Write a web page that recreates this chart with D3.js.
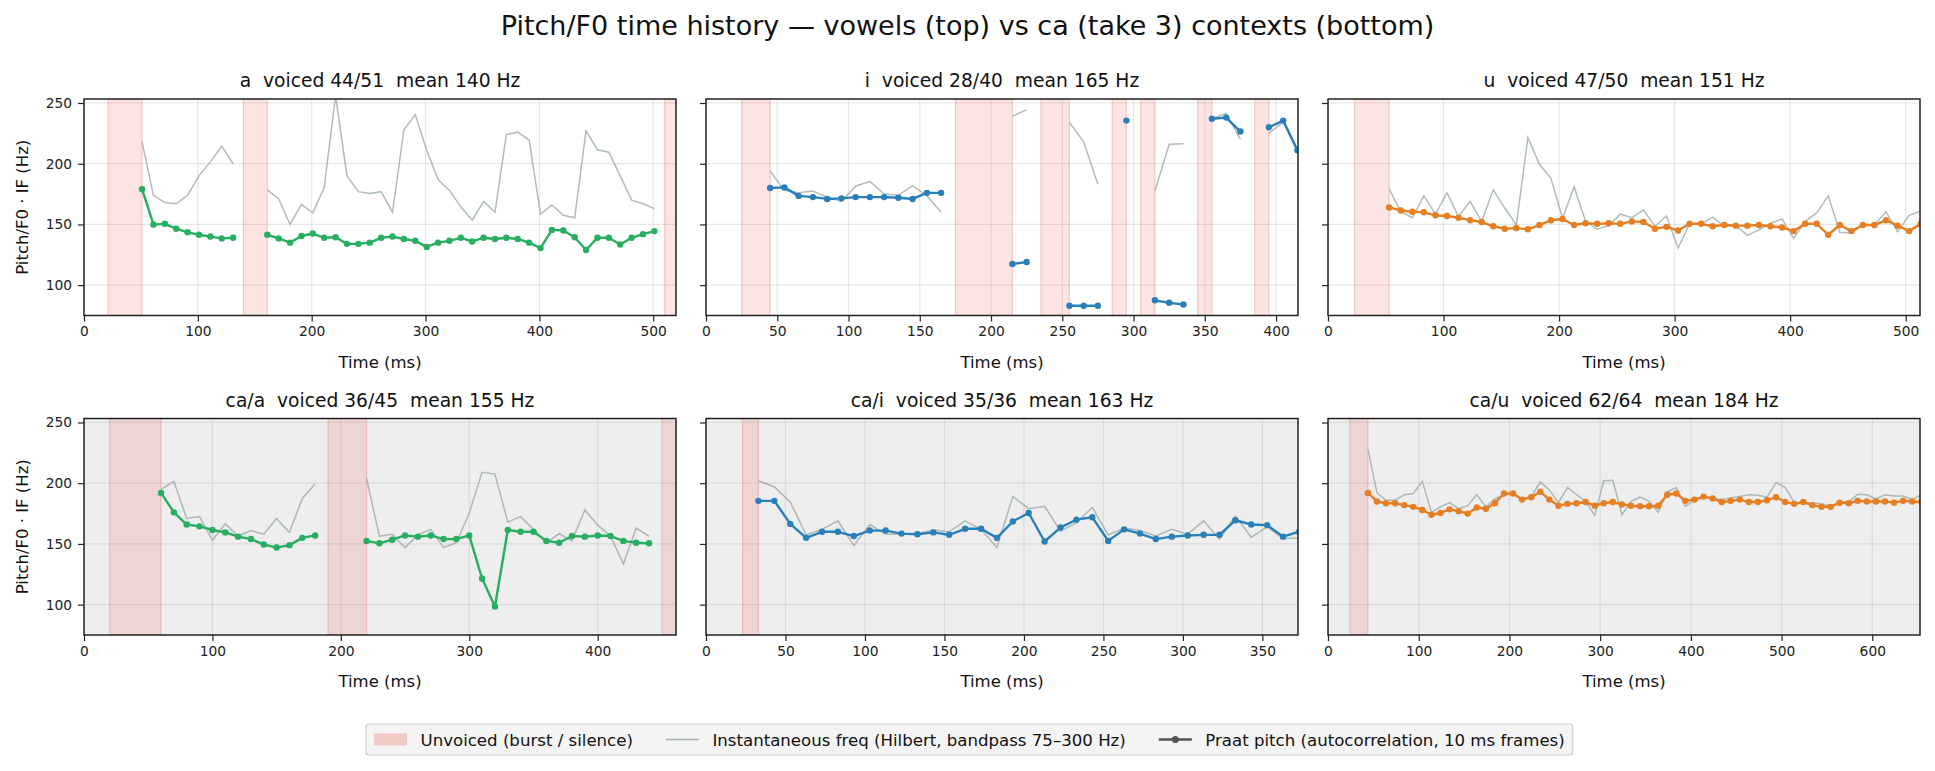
<!DOCTYPE html>
<html>
<head>
<meta charset="utf-8">
<script src="https://cdn.jsdelivr.net/npm/d3@7"></script>
<style>
  body { margin: 0; background: #fff; }
  svg { display: block; font-family: "DejaVu Sans", sans-serif; }
</style>
</head>
<body>
<svg id="chart" width="1935" height="771"></svg>
<script>
// ---- data ----
const frameMs = 10;

// vowel /a/
const aStart = 51;
const aF0 = [179, 150, 150.5, 146.5, 143.5, 141.5, 140, 138.5, 139, null, null,
  141.5, 138.5, 135, 140.5, 142.5, 139, 139.5, 134, 134, 135, 139, 140, 138, 136.5, 131.5,
  135, 136.5, 139, 136, 139, 138, 139, 138, 135, 130.5, 145.5, 145, 139.5, 129, 139, 139,
  133.5, 139, 142, 144.5];
const aIF = [218, 174, 168, 167, 174, 190, 201.5, 214.5, 200, null, null,
  178.5, 171, 150, 166.5, 159.5, 180.5, 256, 190, 177, 175.5, 177, 160, 228, 240.5, 211,
  187, 178, 164.5, 153.5, 169, 160, 224, 226, 219.5, 158.5, 166, 157.5, 155.5, 227, 211.5,
  209.5, 190, 170, 167, 163];
const aUnvoiced = [[21, 51], [140, 161], [510, 521]];

// vowel /i/
const iStart = 45;
const iF0 = [180, 180.5, 173.5, 172.5, 171, 171.5, 172.5, 172.5, 172.5, 172, 171, 176, 176,
  null, null, null, null, 117.5, 119, null, null, 83, 83, 83, null, 235.5, null,
  87.5, 85.5, 84, null, 237, 238, 226.5, null, 230, 235.5, 211];
const iIF = [194, 178, 176, 177.5, 172.5, 169, 181.5, 185.5, 175, 174, 182, 173.5, 160,
  null, null, null, null, 239, 244.5, null, null, 234, 218, 183, null, null, null,
  177.5, 216, 216.5, null, 237, 241.5, 220, null, 225, 234.5, 212];
const iUnvoiced = [[25, 45], [175, 215], [235, 255], [285, 295], [305, 315], [345, 355], [385, 395]];

// vowel /u/
const uStart = 53;
const uF0 = [164, 161.5, 160.5, 160, 157.5, 157, 155.5, 153.5, 152, 148.5, 146.5, 147, 146,
  149.5, 153.5, 154.5, 149.5, 151, 150.5, 151, 150.5, 152.5, 152, 146.5, 148, 145, 150.5,
  150.5, 148.5, 149.5, 149, 149, 149.5, 148.5, 147.5, 144.5, 150.5, 150.5, 141.5, 149.5,
  144.5, 149.5, 149.5, 153.5, 149, 144.5, 150.5];
const uIF = [179, 160.5, 155.5, 173.5, 158.5, 176, 156.5, 169, 152.5, 178.5, 163.5, 149.5,
  221.5, 199.5, 188, 155, 181, 152.5, 146, 149, 158.5, 155.5, 162, 148.5, 157, 130.5, 150.5,
  150.5, 156, 148.5, 149, 141, 145.5, 151, 154.5, 138.5, 152.5, 159.5, 173.5, 143.5, 143,
  149.5, 150, 160.5, 144, 157.5, 161];
const uUnvoiced = [[23, 53]];

// ca/a
const caAStart = 60;
const caAF0 = [192, 176, 166, 164.5, 161.5, 159.5, 156, 154, 149.5, 147, 149, 155, 157,
  null, null, null, 152.5, 150.5, 153.5, 157, 156, 157, 154, 154, 157, 121.5, 98.5, 161.5,
  160, 160, 152.5, 151, 156.5, 156, 157, 156.5, 152.5, 151, 150.5];
const caAIF = [195, 201.5, 171, 172.5, 153, 166.5, 156.5, 161, 158, 171, 159.5, 187.5, 199.5,
  null, null, null, 204, 156.5, 158, 147, 157.5, 162, 147, 151, 175.5, 209, 207.5, 168,
  172.5, 162, 151, 158.5, 152.5, 178, 165.5, 156.5, 133.5, 163, 156.5];
const caAUnvoiced = [[20, 60], [190, 220], [450, 461]];

// ca/i
const caIStart = 33;
const caIF0 = [185.5, 185.5, 166.5, 155, 160, 160, 156.5, 161, 161, 158.5, 158, 159.5, 157.5,
  162.5, 162.5, 155, 168.5, 175.5, 152, 163.5, 170, 172, 152.5, 162, 158.5, 154, 156, 157,
  157.5, 157.5, 169.5, 166, 165.5, 156, 160];
const caIIF = [202, 197, 184.5, 157.5, 162, 169, 148.5, 166, 158, 158, 158.5, 161.5, 160,
  169, 162, 147, 189, 179, 181, 160.5, 167.5, 180, 157.5, 163, 161, 156.5, 162, 158, 169,
  154, 173, 155.5, 164, 154.5, 155];
const caIUnvoiced = [[23, 33]];

// ca/u
const caUStart = 44;
const caUF0 = [192, 185, 183.5, 183.5, 182, 180.5, 178, 174, 175.5, 178.5,
  177, 175, 180, 179, 183.5, 191.5, 191.5, 186.5, 188.5, 193,
  186.5, 181.5, 183, 183.5, 184.5, 181.5, 183.5, 184.5, 182.5, 181.5,
  181, 181, 181.5, 190.5, 191.5, 185.5, 186.5, 189, 187.5, 184.5,
  185.5, 186.5, 184.5, 184.5, 186, 188.5, 184.5, 183, 184.5, 182,
  180.5, 180.5, 184, 183.5, 185.5, 185, 185, 185, 184, 185.5, 185, 184.5];
const caUIF = [228, 192, 186, 186, 190.5, 191.5, 201.5, 176, 180.5, 184,
  179, 181.5, 190.5, 180.5, 187, 190.5, 191.5, 186.5, 189, 201,
  194.5, 184, 196.5, 190.5, 185, 173.5, 202, 202.5, 174, 185,
  188.5, 185, 176, 193, 196.5, 181, 186, 188.5, 187.5, 186.5,
  188, 189, 190.5, 190, 188.5, 200.5, 196.5, 184, 183.5, 184,
  183, 181, 184.5, 184.5, 191, 190.5, 187, 190.5, 189.5, 189.5, 186.5, 190.5];
const caUUnvoiced = [[24, 44]];

const titles = ["a  voiced 44/51  mean 140 Hz", "i  voiced 28/40  mean 165 Hz", "u  voiced 47/50  mean 151 Hz",
  "ca/a  voiced 36/45  mean 155 Hz", "ca/i  voiced 35/36  mean 163 Hz", "ca/u  voiced 62/64  mean 184 Hz"];
const durations = [520, 415.4, 512.4, 461, 372.4, 652.6];
const xTickSets = [
  [0, 100, 200, 300, 400, 500],
  [0, 50, 100, 150, 200, 250, 300, 350, 400],
  [0, 100, 200, 300, 400, 500],
  [0, 100, 200, 300, 400],
  [0, 50, 100, 150, 200, 250, 300, 350],
  [0, 100, 200, 300, 400, 500, 600]
];
const yTicks = [100, 150, 200, 250];
const yRange = [75, 253.3];
const legendLabels = ["Unvoiced (burst / silence)", "Instantaneous freq (Hilbert, bandpass 75\u2013300 Hz)",
  "Praat pitch (autocorrelation, 10 ms frames)"];

// ---- layout ----
const colors = { a: "#27ae60", i: "#2980b9", u: "#e67e22" };
const ifColor = "#95a5a6";
const bandColor = "#e74c3c";
const colX = [84, 706, 1328];
const rowY = [99, 418.5];
const pw = 592, ph = 216.5;

const panels = [
  { start: aStart, f0: aF0, ifr: aIF, unv: aUnvoiced, color: colors.a },
  { start: iStart, f0: iF0, ifr: iIF, unv: iUnvoiced, color: colors.i },
  { start: uStart, f0: uF0, ifr: uIF, unv: uUnvoiced, color: colors.u },
  { start: caAStart, f0: caAF0, ifr: caAIF, unv: caAUnvoiced, color: colors.a },
  { start: caIStart, f0: caIF0, ifr: caIIF, unv: caIUnvoiced, color: colors.i },
  { start: caUStart, f0: caUF0, ifr: caUIF, unv: caUUnvoiced, color: colors.u }
].map((p, k) => Object.assign(p, {
  title: titles[k], dur: durations[k], ticks: xTickSets[k], row: Math.floor(k / 3), col: k % 3
}));

const svg = d3.select("#chart");

svg.append("text")
  .attr("x", 967.5).attr("y", 35)
  .attr("text-anchor", "middle")
  .style("font-size", "27px")
  .attr("fill", "#111")
  .text("Pitch/F0 time history \u2014 vowels (top) vs ca (take 3) contexts (bottom)");

const y = d3.scaleLinear().domain(yRange).range([ph, 0]);

panels.forEach((p, k) => {
  const g = svg.append("g").attr("transform", `translate(${colX[p.col]},${rowY[p.row]})`);
  const x = d3.scaleLinear().domain([0, p.dur]).range([0, pw]);

  g.append("rect").attr("width", pw).attr("height", ph)
    .attr("fill", p.row === 1 ? "#eeeeee" : "#ffffff");

  g.append("clipPath").attr("id", "clip" + k)
    .append("rect").attr("width", pw).attr("height", ph);

  const inner = g.append("g").attr("clip-path", `url(#clip${k})`);

  // grid
  inner.selectAll(".gx").data(p.ticks).enter().append("line")
    .attr("x1", d => x(d)).attr("x2", d => x(d)).attr("y1", 0).attr("y2", ph)
    .attr("stroke", "#b0b0b0").attr("stroke-opacity", 0.3).attr("stroke-width", 1.2);
  inner.selectAll(".gy").data(yTicks).enter().append("line")
    .attr("x1", 0).attr("x2", pw).attr("y1", d => y(d)).attr("y2", d => y(d))
    .attr("stroke", "#b0b0b0").attr("stroke-opacity", 0.3).attr("stroke-width", 1.2);

  // unvoiced bands
  inner.selectAll(".band").data(p.unv).enter().append("rect")
    .attr("x", d => x(d[0])).attr("width", d => x(d[1]) - x(d[0]))
    .attr("y", 0).attr("height", ph)
    .attr("fill", bandColor).attr("fill-opacity", 0.15)
    .attr("stroke", bandColor).attr("stroke-opacity", 0.25).attr("stroke-width", 1.2);

  const tOf = i => p.start + i * frameMs;
  const line = d3.line()
    .defined(d => d != null)
    .x((d, i) => x(tOf(i)))
    .y(d => y(d));

  inner.append("path").datum(p.ifr)
    .attr("d", line)
    .attr("fill", "none").attr("stroke", ifColor)
    .attr("stroke-opacity", 0.75).attr("stroke-width", 1.5);

  inner.append("path").datum(p.f0)
    .attr("d", line)
    .attr("fill", "none").attr("stroke", p.color).attr("stroke-width", 2.4)
    .attr("stroke-linejoin", "round");

  inner.selectAll(".pt").data(p.f0.map((v, i) => [tOf(i), v]).filter(d => d[1] != null))
    .enter().append("circle")
    .attr("cx", d => x(d[0])).attr("cy", d => y(d[1])).attr("r", 3.2)
    .attr("fill", p.color);

  // axes
  const xAxis = g.append("g").attr("transform", `translate(0,${ph})`)
    .call(d3.axisBottom(x).tickValues(p.ticks).tickSize(6).tickPadding(5).tickFormat(d3.format("d")));
  xAxis.select(".domain").remove();
  xAxis.selectAll("line").attr("stroke", "#222").attr("stroke-width", 1.2);
  xAxis.selectAll("text").style("font-size", "13.8px").attr("fill", "#222")
    .attr("font-family", "DejaVu Sans");

  const yAxis = g.append("g")
    .call(d3.axisLeft(y).tickValues(yTicks).tickSize(6).tickPadding(6)
      .tickFormat(p.col === 0 ? d3.format("d") : ""));
  yAxis.select(".domain").remove();
  yAxis.selectAll("line").attr("stroke", "#222").attr("stroke-width", 1.2);
  yAxis.selectAll("text").style("font-size", "13.8px").attr("fill", "#222")
    .attr("font-family", "DejaVu Sans");

  g.append("rect").attr("width", pw).attr("height", ph)
    .attr("fill", "none").attr("stroke", "#222").attr("stroke-width", 1.5);

  g.append("text")
    .attr("x", pw / 2).attr("y", -12)
    .attr("text-anchor", "middle")
    .style("font-size", "18.7px").style("white-space", "pre")
    .attr("fill", "#111")
    .text(p.title);

  g.append("text")
    .attr("x", pw / 2).attr("y", ph + 52)
    .attr("text-anchor", "middle")
    .style("font-size", "16.5px").attr("fill", "#111")
    .text("Time (ms)");

  if (p.col === 0) {
    g.append("text")
      .attr("transform", `translate(${27.5 - colX[0]},${ph / 2}) rotate(-90)`)
      .attr("text-anchor", "middle")
      .style("font-size", "16.5px").attr("fill", "#111")
      .text("Pitch/F0 \u00b7 IF (Hz)");
  }
});

// ---- legend ----
const lg = svg.append("g");
const box = lg.append("rect")
  .attr("x", 366).attr("y", 724).attr("width", 1208).attr("height", 31).attr("rx", 3)
  .attr("fill", "#f4f4f4").attr("stroke", "#cccccc").attr("stroke-width", 1.2);
const ly = 739.5;
const fs = 16.6;
let cx = 374;
legendLabels.forEach((lab, k) => {
  if (k === 0) {
    lg.append("rect").attr("x", cx).attr("y", ly - 6).attr("width", 33).attr("height", 12)
      .attr("fill", bandColor).attr("fill-opacity", 0.25);
  } else if (k === 1) {
    lg.append("line").attr("x1", cx).attr("x2", cx + 33).attr("y1", ly).attr("y2", ly)
      .attr("stroke", ifColor).attr("stroke-width", 1.5).attr("stroke-opacity", 0.85);
  } else {
    lg.append("line").attr("x1", cx).attr("x2", cx + 33).attr("y1", ly).attr("y2", ly)
      .attr("stroke", "#555").attr("stroke-width", 2.4);
    lg.append("circle").attr("cx", cx + 16.5).attr("cy", ly).attr("r", 3.5).attr("fill", "#555");
  }
  const t = lg.append("text").attr("x", cx + 46.5).attr("y", ly + 6)
    .style("font-size", fs + "px").attr("fill", "#111").text(lab);
  cx += 46.5 + t.node().getComputedTextLength() + 33;
});
box.attr("width", cx - 33 + 8 - 366);
</script>
</body>
</html>
